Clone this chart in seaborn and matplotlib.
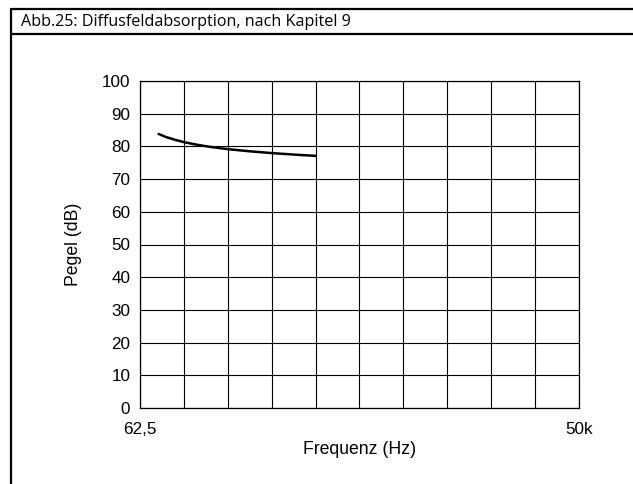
import numpy as np
import pandas as pd
import matplotlib
matplotlib.use("Agg")
import matplotlib.pyplot as plt
from matplotlib.lines import Line2D
import seaborn as sns

# Frequency response of the diffuse-field absorption (chapter 9)
freq_hz = [83, 93, 107, 122, 149, 182, 239, 333, 466, 651, 910]
level_db = [83.8, 82.85, 82.0, 81.3, 80.5, 79.85, 79.15, 78.5, 77.95, 77.5, 77.1]

x_min, x_max = 62.5, 50000
x_tick_labels = ["62,5", "", "", "", "", "", "", "", "", "", "50k"]
y_ticks = list(range(0, 101, 10))

title_text = "Abb.25: Diffusfeldabsorption, nach Kapitel 9"
x_label = "Frequenz (Hz)"
y_label = "Pegel (dB)"

df = pd.DataFrame({"Frequenz": freq_hz, "Pegel": level_db})

sns.set_theme(style="white")
plt.rcParams["font.family"] = ["Liberation Sans", "DejaVu Sans"]

fig = plt.figure(figsize=(6.33, 4.84), dpi=100)
ax = fig.add_axes([140 / 633, 1 - 408 / 484, (579 - 140) / 633, (408 - 81) / 484])

sns.lineplot(data=df, x="Frequenz", y="Pegel", ax=ax, color="black", linewidth=1.8)

ax.set_xscale("log")
ax.set_xlim(x_min, x_max)
ax.set_ylim(0, 100)

x_ticks = np.geomspace(x_min, x_max, len(x_tick_labels))
ax.set_xticks(x_ticks)
ax.set_xticklabels(x_tick_labels)
ax.xaxis.set_minor_locator(matplotlib.ticker.NullLocator())
ax.set_yticks(y_ticks)
ax.set_yticklabels([str(v) for v in y_ticks])

ax.grid(True, color="black", linewidth=0.8)
ax.set_axisbelow(True)
for sp in ax.spines.values():
    sp.set_visible(True)
    sp.set_color("black")
    sp.set_linewidth(0.9)

ax.tick_params(axis="both", which="major", direction="out", length=5,
               width=0.8, color="black", labelsize=12.3, labelcolor="black")
ax.tick_params(axis="y", pad=2)
ax.tick_params(axis="x", pad=5)

ax.set_xlabel(x_label, fontsize=12.7, color="black", labelpad=3)
ax.set_ylabel(y_label, fontsize=12.7, color="black", labelpad=14)

# Caption frame at the top of the figure
fig.add_artist(Line2D([11 / 633, 1.0], [1 - 9 / 484, 1 - 9 / 484],
                      transform=fig.transFigure, color="black", linewidth=1.6))
fig.add_artist(Line2D([11 / 633, 1.0], [1 - 34 / 484, 1 - 34 / 484],
                      transform=fig.transFigure, color="black", linewidth=1.6))
fig.add_artist(Line2D([11 / 633, 11 / 633], [0.0, 1 - 9 / 484],
                      transform=fig.transFigure, color="black", linewidth=1.6))
fig.text(21 / 633, 1 - 21.5 / 484, title_text, fontsize=11.6, color="black",
         family=["Open Sans", "DejaVu Sans"], va="center", ha="left")

fig.savefig("out.png", dpi=100, facecolor="white")
